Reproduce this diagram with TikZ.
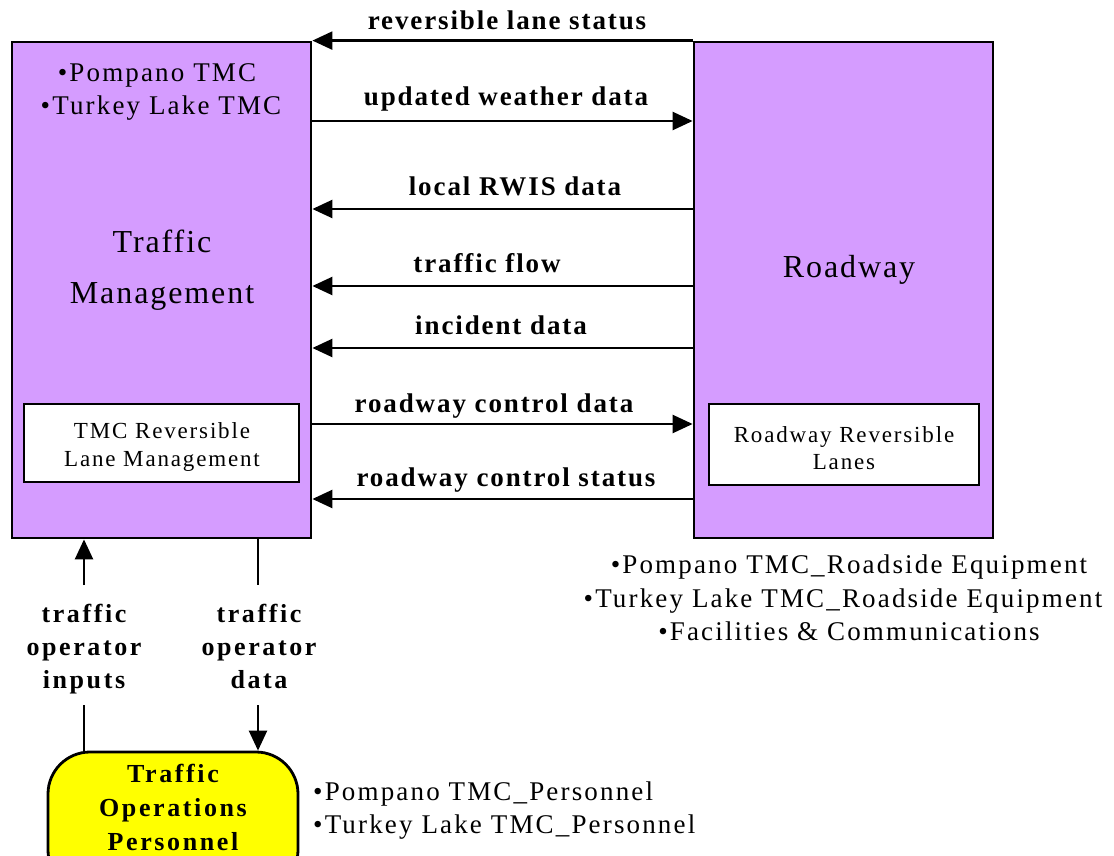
\documentclass[tikz,border=0pt]{standalone}
\usepackage{fontspec}
\setmainfont{Liberation Serif}
\newfontfamily\spfont{Liberation Serif}[LetterSpace=8]
\newfontfamily\spbfont{Liberation Serif}[LetterSpace=7]
\newfontfamily\spofont{Liberation Serif}[LetterSpace=10]
\newfontfamily\spbigfont{Liberation Serif}[LetterSpace=6]
\usetikzlibrary{arrows.meta}
\definecolor{boxpurple}{RGB}{213,156,255}
\definecolor{opyellow}{RGB}{255,255,0}
\tikzset{
  bigbox/.style={draw=black, line width=2.8pt, fill=boxpurple, minimum width=299pt, minimum height=496pt, inner sep=0pt},
  innerbox/.style={draw=black, line width=2.8pt, fill=white, inner sep=0pt},
  flow/.style={line width=2.4pt, -{Triangle[length=20pt,width=18pt]}},
  plainline/.style={line width=2.4pt},
  flowlabel/.style={anchor=base, inner sep=0pt, font=\spbfont\bfseries\fontsize{27}{32}\selectfont},
  oplabel/.style={anchor=base, inner sep=0pt, font=\spofont\bfseries\fontsize{26}{30}\selectfont},
  bullettext/.style={anchor=base, inner sep=0pt, font=\spfont\fontsize{27}{32}\selectfont},
  bigtext/.style={anchor=base, inner sep=0pt, font=\spbigfont\fontsize{32}{38}\selectfont},
  smalltext/.style={anchor=base, inner sep=0pt, font=\spfont\fontsize{23}{27}\selectfont},
  persbox/.style={draw=black, line width=2.8pt, fill=opyellow, rounded corners=42pt, minimum width=250pt, minimum height=140pt, inner sep=0pt},
}
\begin{document}
\begin{tikzpicture}[x=1pt,y=-1pt]
\useasboundingbox (0,0) rectangle (1114,856);
\clip (0,0) rectangle (1114,856);
% main boxes
\node[bigbox] (tm) at (161.5,290) {};
\node[bigbox] (rw) at (843.5,290) {};
\node[innerbox, minimum width=275pt, minimum height=78pt] (tmcrl) at (161.5,443) {};
\node[innerbox, minimum width=270pt, minimum height=81pt] (rwrl) at (844,444.5) {};
% personnel box
\node[persbox] (pers) at (173,822) {};
% texts inside boxes
\node[bullettext] (tmb1) at (157,82) {•Pompano TMC};
\node[bullettext] (tmb2) at (161,115) {•Turkey Lake TMC};
\node[bigtext] (tmt1) at (162,252) {Traffic};
\node[bigtext] (tmt2) at (162,303) {Management};
\node[bigtext] (rwt) at (849,277) {Roadway};
\node[smalltext] (tmcrl1) at (162,438) {TMC Reversible};
\node[smalltext] (tmcrl2) at (162,466) {Lane Management};
\node[smalltext] (rwrl1) at (844,442) {Roadway Reversible};
\node[smalltext] (rwrl2) at (844,469) {Lanes};
\node[oplabel] (pt1) at (173,782) {Traffic};
\node[oplabel] (pt2) at (173,816) {Operations};
\node[oplabel] (pt3) at (173,850) {Personnel};
% side lists
\node[bullettext] (rs1) at (849,573) {•Pompano TMC\_Roadside Equipment};
\node[bullettext] (rs2) at (843,607) {•Turkey Lake TMC\_Roadside Equipment};
\node[bullettext] (rs3) at (849,640) {•Facilities \& Communications};
\node[bullettext, anchor=base west] (pp1) at (313,800) {•Pompano TMC\_Personnel};
\node[bullettext, anchor=base west] (pp2) at (313,833) {•Turkey Lake TMC\_Personnel};
% horizontal flows
\draw[flow] (rw.north west) -- (tm.north east);
\node[flowlabel] (l1) at (507,30) {reversible lane status};
\draw[flow] (tm.east |- 0,121) -- (rw.west |- 0,121);
\node[flowlabel] (l2) at (506,106) {updated weather data};
\draw[flow] (rw.west |- 0,209) -- (tm.east |- 0,209);
\node[flowlabel] (l3) at (515,195) {local RWIS data};
\draw[flow] (rw.west |- 0,286) -- (tm.east |- 0,286);
\node[flowlabel] (l4) at (487,272) {traffic flow};
\draw[flow] (rw.west |- 0,348) -- (tm.east |- 0,348);
\node[flowlabel] (l5) at (501,334) {incident data};
\draw[flow] (tm.east |- 0,424) -- (rw.west |- 0,424);
\node[flowlabel] (l6) at (494,412) {roadway control data};
\draw[flow] (rw.west |- 0,499) -- (tm.east |- 0,499);
\node[flowlabel] (l7) at (506,486) {roadway control status};
% vertical flows
\node[oplabel] (oi1) at (84,622) {traffic};
\node[oplabel] (oi2) at (84,655) {operator};
\node[oplabel] (oi3) at (84,688) {inputs};
\node[oplabel] (od1) at (259,622) {traffic};
\node[oplabel] (od2) at (259,655) {operator};
\node[oplabel] (od3) at (259,688) {data};
\coordinate (ia) at (84,585);
\coordinate (ib) at (84,705);
\coordinate (da) at (258,585);
\coordinate (db) at (258,705);
\draw[flow] (ia) -- (tm.south -| ia);
\draw[plainline] (ib) -- (pers.north -| ib);
\draw[plainline] (tm.south -| da) -- (da);
\draw[flow] (db) -- (pers.north -| db);
\end{tikzpicture}
\end{document}
